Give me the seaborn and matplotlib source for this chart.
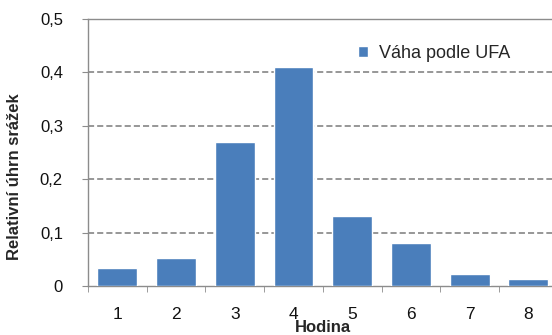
import numpy as np
import pandas as pd
import matplotlib.pyplot as plt
import seaborn as sns
from matplotlib.ticker import FixedLocator, FuncFormatter

sns.set_style('white')
plt.rcParams['font.family'] = ['Liberation Sans', 'DejaVu Sans']

# Data
hodiny = ['1', '2', '3', '4', '5', '6', '7', '8']
vaha_ufa = [0.034, 0.052, 0.270, 0.410, 0.131, 0.080, 0.022, 0.013]
serie = 'Váha podle UFA'

df = pd.DataFrame({'Hodina': hodiny, 'Hodnota': vaha_ufa, 'Serie': serie})

fig = plt.figure(figsize=(5.52, 3.35), dpi=100)
ax = fig.add_axes([0.1594, 0.1463, 0.851, 0.797])

sns.barplot(data=df, x='Hodina', y='Hodnota', hue='Serie', palette=['#4a7ebb'],
            saturation=1, width=0.68, ax=ax, zorder=3)

ax.set_xlim(-0.5, 7.5)
ax.set_ylim(0, 0.5)
ax.set_yticks([0, 0.1, 0.2, 0.3, 0.4, 0.5])
ax.yaxis.set_major_formatter(FuncFormatter(lambda v, p: '0' if v == 0 else f'{v:.1f}'.replace('.', ',')))

# grid
for y in [0.1, 0.2, 0.3, 0.4]:
    ax.axhline(y, color='#7a7a7a', lw=1.1, ls=(0, (4, 2)), zorder=1)

for s in ['left', 'bottom', 'top']:
    ax.spines[s].set_color('#8c8c8c')
    ax.spines[s].set_linewidth(1.0)
ax.spines['right'].set_visible(False)

ax.xaxis.set_minor_locator(FixedLocator(np.arange(-0.5, 8, 1)))
ax.tick_params(axis='x', which='major', length=0, pad=15, labelsize=12.5, colors='#111111')
ax.tick_params(axis='x', which='minor', length=4, direction='out', color='#8c8c8c', bottom=True)
ax.tick_params(axis='y', length=4, direction='out', color='#8c8c8c', pad=14, labelsize=12,
               colors='#111111', left=True)

ax.set_xlabel('Hodina', fontsize=12, fontweight='bold', labelpad=-1.5)
ax.set_ylabel('Relativní úhrn srážek', fontsize=12, fontweight='bold')
ax.yaxis.set_label_coords(-0.14, 0.41)

leg = ax.legend(loc='upper left', bbox_to_anchor=(0.54, 0.965), frameon=False,
                fontsize=13, handlelength=0.55, handleheight=0.55, handletextpad=0.6)

fig.savefig('out.png', dpi=100)
